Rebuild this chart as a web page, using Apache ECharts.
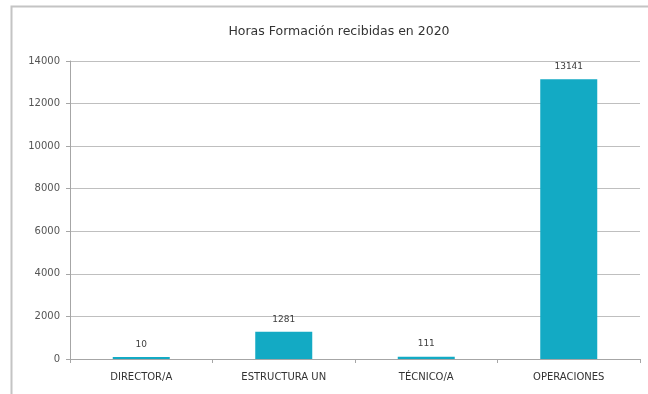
<!DOCTYPE html>
<html>
<head>
<meta charset="utf-8">
<script src="https://cdn.jsdelivr.net/npm/echarts@6/dist/echarts.min.js"></script>
<style>
  html, body { margin: 0; padding: 0; background: #fff; }
  #chart { width: 648px; height: 394px; }
</style>
</head>
<body>
<div id="chart"></div>
<script>
    // datos del gráfico
    var categorias = ['DIRECTOR/A', 'ESTRUCTURA UN', 'TÉCNICO/A', 'OPERACIONES'];
    var horas = [10, 1281, 111, 13141];
    var yTicks = [0, 2000, 4000, 6000, 8000, 10000, 12000, 14000];

    var myChart = echarts.init(document.getElementById('chart'));
    var myOption = {
        animation: false,
        backgroundColor: '#ffffff',
        title: {
            text: 'Horas Formación recibidas en 2020',
            left: 334,
            top: 20,
            textAlign: 'center',
            textStyle: {
                fontFamily: 'DejaVu Sans',
                fontSize: 12.5,
                fontWeight: 'normal',
                color: '#333333'
            }
        },
        // marco exterior del gráfico
        graphic: [{
            type: 'rect',
            shape: {x: 11.5, y: 6.5, width: 700, height: 500},
            style: {fill: 'none', stroke: '#c4c4c4', lineWidth: 2},
            silent: true
        }],
        grid: {
            left: 70,
            right: 8,
            top: 61,
            bottom: 35
        },
        xAxis: {
            type: 'category',
            data: categorias,
            axisLine: {lineStyle: {color: '#a6a6a6', width: 1}},
            axisTick: {show: true, length: 4, lineStyle: {color: '#a6a6a6'}},
            axisLabel: {
                fontFamily: 'DejaVu Sans',
                fontSize: 10,
                color: '#333333',
                margin: 13
            }
        },
        yAxis: {
            type: 'value',
            min: yTicks[0],
            max: yTicks[yTicks.length - 1],
            interval: 2000,
            axisLine: {show: true, lineStyle: {color: '#a6a6a6'}},
            axisTick: {show: true, length: 4, lineStyle: {color: '#a6a6a6'}},
            axisLabel: {
                fontFamily: 'DejaVu Sans',
                fontSize: 10,
                color: '#555555',
                margin: 10,
                formatter: function (v) {
                    return String(v);
                }
            },
            splitLine: {lineStyle: {color: '#bfbfbf', width: 1}}
        },
        series: [{
            type: 'bar',
            data: horas,
            barWidth: '40%',
            barMinHeight: 2,
            itemStyle: {color: '#13aac4'},
            label: {
                show: true,
                position: 'top',
                distance: 8,
                fontFamily: 'DejaVu Sans',
                fontSize: 9,
                color: '#404040'
            }
        }]
    };
    myChart.setOption(myOption);
</script>
</body>
</html>
